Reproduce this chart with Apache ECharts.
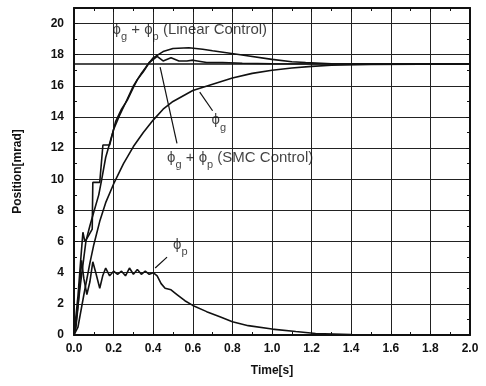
<!DOCTYPE html>
<html>
<head>
<meta charset="utf-8">
<script src="https://cdn.jsdelivr.net/npm/echarts@6/dist/echarts.min.js"></script>
<style>
  html, body { margin: 0; padding: 0; background: #fff; }
  #chart { width: 486px; height: 386px; }
</style>
</head>
<body>
<div id="chart"></div>
<script>
// values: [time s, position mrad]
const phiG = [
  [0, 0], [0.02, 0.5], [0.05, 2.6], [0.08, 4.6], [0.1, 5.8], [0.13, 7.3], [0.16, 8.5],
  [0.2, 9.7], [0.25, 11.0], [0.3, 12.1], [0.35, 13.0], [0.4, 13.8], [0.45, 14.5],
  [0.5, 15.0], [0.6, 15.7], [0.7, 16.1], [0.8, 16.5], [0.9, 16.8], [1.0, 17.0],
  [1.1, 17.15], [1.2, 17.25], [1.3, 17.32], [1.5, 17.38], [2.0, 17.4]
];
const linearSum = [
  [0, 0], [0.01, 0.8], [0.03, 3.0], [0.05, 5.0], [0.06, 6.0], [0.08, 7.0], [0.1, 7.9],
  [0.125, 9.0], [0.14, 10.0], [0.16, 11.4], [0.18, 12.3], [0.2, 13.2], [0.23, 14.1],
  [0.26, 14.9], [0.3, 16.0], [0.34, 16.8], [0.375, 17.4], [0.4, 17.8], [0.45, 18.2],
  [0.5, 18.4], [0.58, 18.45], [0.65, 18.35], [0.7, 18.25], [0.84, 18.0], [1.0, 17.7],
  [1.1, 17.55], [1.17, 17.5], [1.3, 17.42], [1.5, 17.4], [2.0, 17.4]
];
const smcSum = [
  [0, 0], [0.02, 2.5], [0.035, 5.0], [0.045, 6.6], [0.055, 6.0], [0.07, 6.3], [0.092, 6.8],
  [0.095, 9.8], [0.13, 9.8], [0.146, 12.2], [0.18, 12.2], [0.21, 13.7], [0.24, 14.5],
  [0.27, 15.1], [0.3, 15.9], [0.32, 16.4], [0.35, 16.9], [0.38, 17.5], [0.42, 17.9],
  [0.45, 17.6], [0.49, 17.8], [0.53, 17.6], [0.57, 17.6], [0.6, 17.65], [0.67, 17.5],
  [0.75, 17.5], [0.85, 17.45], [1.0, 17.42], [2.0, 17.4]
];
const phiP = [
  [0, 0], [0.01, 0.5], [0.02, 1.8], [0.03, 3.5], [0.038, 4.8], [0.05, 3.6], [0.065, 2.6],
  [0.08, 3.4], [0.095, 4.7], [0.11, 4.0], [0.13, 3.0], [0.145, 3.8], [0.16, 4.3],
  [0.18, 3.8], [0.2, 4.1], [0.22, 3.9], [0.24, 4.1], [0.26, 3.8], [0.28, 4.3], [0.3, 3.9],
  [0.32, 4.2], [0.34, 3.9], [0.36, 4.1], [0.38, 3.9], [0.4, 4.0], [0.42, 3.8], [0.44, 3.3],
  [0.46, 3.0], [0.49, 2.9], [0.52, 2.6], [0.56, 2.2], [0.6, 1.9], [0.67, 1.5], [0.74, 1.15],
  [0.8, 0.85], [0.88, 0.6], [1.0, 0.38], [1.12, 0.22], [1.22, 0.1], [1.4, 0.03], [1.6, 0], [2.0, 0]
];
const refLevel = [[0, 17.4], [2.0, 17.4]];

// annotation anchors and pointer lines, in data units
const notes = [
  { at: [0.195, 19.6], text: "{p|ϕ}{s|g}{p| + ϕ}{s|p}{p| (Linear Control)}" },
  { at: [0.47, 11.4], text: "{p|ϕ}{s|g}{p| + ϕ}{s|p}{p| (SMC Control)}" },
  { at: [0.695, 13.8], text: "{p|ϕ}{s|g}" },
  { at: [0.5, 5.8], text: "{p|ϕ}{s|p}" }
];
const pointers = [
  [[0.52, 12.3], [0.435, 17.2]],
  [[0.70, 14.4], [0.635, 15.6]],
  [[0.47, 5.0], [0.41, 4.3]]
];

const FONT = "Liberation Sans";
const INK = "#111";

const chart = echarts.init(document.getElementById("chart"));

const line = (data) => ({
  type: "line",
  data,
  symbol: "none",
  smooth: false,
  lineStyle: { color: INK, width: 1.6 },
  z: 3
});

const frameAxis = (extra) => Object.assign({
  type: "value",
  axisLine: { show: true, onZero: false, lineStyle: { color: INK, width: 2 } },
  axisTick: { show: true, inside: true, length: 4, lineStyle: { color: INK } },
  minorTick: { show: true, splitNumber: 2, length: 3, lineStyle: { color: INK } },
  splitLine: { show: false },
  axisLabel: { show: false }
}, extra);

chart.setOption({
  animation: false,
  grid: { left: 74, right: 16, top: 8, bottom: 51 },
  xAxis: [
    frameAxis({
      min: 0, max: 2, interval: 0.2,
      name: "Time[s]", nameLocation: "middle", nameGap: 30,
      nameTextStyle: { fontFamily: FONT, fontWeight: "bold", fontSize: 12, color: INK },
      splitLine: { show: true, lineStyle: { color: "#222", width: 1 } },
      axisLabel: {
        show: true, margin: 8, fontFamily: FONT, fontWeight: "bold", fontSize: 12, color: INK,
        formatter: (v) => v.toFixed(1)
      }
    }),
    frameAxis({ min: 0, max: 2, interval: 0.2, position: "top" })
  ],
  yAxis: [
    frameAxis({
      min: 0, max: 21, interval: 2,
      name: "Position[mrad]", nameLocation: "middle", nameGap: 50, nameRotate: 90,
      nameTextStyle: { fontFamily: FONT, fontWeight: "bold", fontSize: 12, color: INK },
      splitLine: { show: true, lineStyle: { color: "#222", width: 1 } },
      axisLabel: {
        show: true, margin: 10, showMaxLabel: false,
        fontFamily: FONT, fontWeight: "bold", fontSize: 12, color: INK
      }
    }),
    frameAxis({ min: 0, max: 21, interval: 2, position: "right" })
  ],
  series: [
    Object.assign(line(refLevel), { lineStyle: { color: INK, width: 1.4 } }),
    line(phiG),
    line(linearSum),
    line(smcSum),
    line(phiP),
    {
      type: "lines",
      coordinateSystem: "cartesian2d",
      polyline: false,
      lineStyle: { color: INK, width: 1.2, opacity: 1 },
      data: pointers.map((c) => ({ coords: c })),
      z: 4
    },
    {
      type: "scatter",
      symbolSize: 0,
      data: notes.map((n) => ({ value: n.at, label: { formatter: n.text } })),
      label: {
        show: true,
        position: "right",
        distance: 0,
        color: INK,
        rich: {
          p: { fontFamily: FONT, fontSize: 15, color: INK, lineHeight: 26 },
          s: { fontFamily: FONT, fontSize: 11, color: INK, lineHeight: 12, verticalAlign: "bottom" }
        }
      },
      z: 5
    }
  ]
});
</script>
</body>
</html>
